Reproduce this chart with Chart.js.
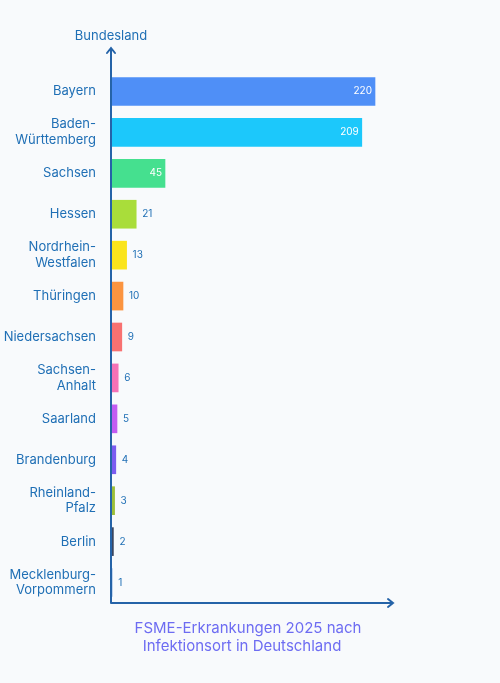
<!DOCTYPE html>
<html><head><meta charset="utf-8">
<script src="https://cdn.jsdelivr.net/npm/chart.js@4"></script>
<style>html,body{margin:0;padding:0;background:#f8fafc}#w{width:500px;height:683px}</style>
</head><body><div id="w"><canvas id="c"></canvas></div>
<script>
const categories=[["Bayern"],["Baden-","Württemberg"],["Sachsen"],["Hessen"],["Nordrhein-","Westfalen"],["Thüringen"],["Niedersachsen"],["Sachsen-","Anhalt"],["Saarland"],["Brandenburg"],["Rheinland-","Pfalz"],["Berlin"],["Mecklenburg-","Vorpommern"]];
const values=[220,209,45,21,13,10,9,6,5,4,3,2,1];
const colors=["#4f8ff7","#1cc8fb","#45e08f","#a9dd3a","#fae41c","#fb9440","#f87171","#f472b6","#c25cf2","#7c5cf0","#9cbf3a","#3a4660","#8fb3e0"];
const axisTitle="Bundesland";
const chartTitle=["FSME-Erkrankungen 2025 nach","Infektionsort in Deutschland"];
const blue="#1f6fb5";
const deco={id:"deco",afterDatasetsDraw(ch){
 const {ctx,chartArea:a}=ch;const x0=a.left,y0=a.bottom;
 ctx.save();ctx.strokeStyle="#2563a8";ctx.lineWidth=2;ctx.lineCap="round";
 ctx.beginPath();ctx.moveTo(x0,y0);ctx.lineTo(x0,48);ctx.moveTo(x0-4,53);ctx.lineTo(x0,48);ctx.lineTo(x0+4,53);
 ctx.moveTo(x0,y0);ctx.lineTo(393,y0);ctx.moveTo(388,y0-4);ctx.lineTo(393,y0);ctx.lineTo(388,y0+4);ctx.stroke();
 ctx.fillStyle=blue;ctx.font="13px Inter";ctx.textAlign="center";ctx.textBaseline="middle";
 ctx.fillText(axisTitle,x0,36);
 ctx.fillStyle="#6d6cf2";ctx.font="15px Inter";
 ctx.fillText(chartTitle[0],248,628);ctx.fillText(chartTitle[1],242,646);
 const m=ch.getDatasetMeta(0);ctx.font="10px Inter";
 m.data.forEach((b,i)=>{const v=values[i];
  if(v>=40){ctx.fillStyle="#ffffff";ctx.textAlign="right";ctx.fillText(v,b.x-3,b.y);}
  else{ctx.fillStyle=blue;ctx.textAlign="left";ctx.fillText(v,b.x+6,b.y);}});
 ctx.restore();}};
new Chart(document.getElementById("c"),{type:"bar",
 data:{labels:categories,datasets:[{data:values,backgroundColor:colors,barThickness:28}]},
 options:{indexAxis:"y",responsive:true,maintainAspectRatio:false,animation:false,
  layout:{padding:{top:71,bottom:80,right:107,left:0}},
  plugins:{legend:{display:false},tooltip:{enabled:false}},
  scales:{x:{display:false,min:0,max:235},
   y:{grid:{display:false},border:{display:false},afterFit(s){s.width=111;},
    ticks:{color:blue,font:{family:"Inter",size:13},padding:7,crossAlign:"near"}}}},
 plugins:[deco]});
</script></body></html>
